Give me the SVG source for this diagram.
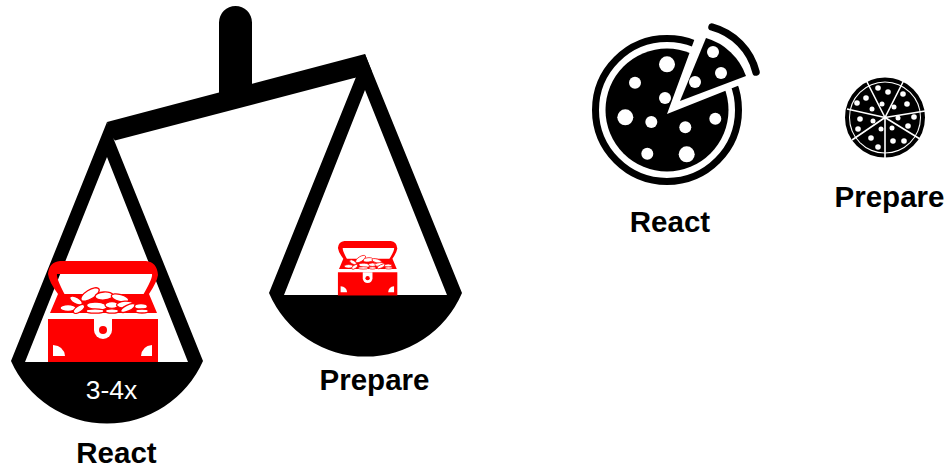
<svg xmlns="http://www.w3.org/2000/svg" xmlns:xlink="http://www.w3.org/1999/xlink" width="946" height="470" viewBox="0 0 946 470">
<style>
.lbl{font-family:"Liberation Sans",Arial,sans-serif;font-weight:700;font-size:29.5px;fill:#000;text-anchor:middle}
.num{font-family:"Liberation Sans",Arial,sans-serif;font-size:26.5px;fill:#fff;text-anchor:middle}
.c{fill:#fff;stroke:#f00;stroke-width:1.300}
.w{fill:#fff}
.k{fill:#000}
</style>
<defs>
<g id="chest">
<path fill="#f00" fill-rule="evenodd" d="M60 261H146Q157 262 158 275Q157 282 149 294L157 313H50L58 294Q49 282 48 274Q49 262 60 261ZM57 274Q56 278 65 295H143Q153 278 152 274Z"/>
<path fill="#f00" d="M60 294H147V313H60Z"/>
<ellipse class="c" cx="90" cy="294.500" rx="10.500" ry="4.500" transform="rotate(-32 90 294.500)"/>
<ellipse class="c" cx="104" cy="296" rx="9" ry="4" transform="rotate(-4 104 296)"/>
<ellipse class="c" cx="120" cy="298" rx="9" ry="3.500" transform="rotate(15 120 298)"/>
<ellipse class="c" cx="76" cy="300.500" rx="7" ry="3.300" transform="rotate(30 76 300.500)"/>
<ellipse class="c" cx="68" cy="308" rx="8" ry="3.300"/>
<ellipse class="c" cx="79" cy="309" rx="6.500" ry="3" transform="rotate(-35 79 309)"/>
<ellipse class="c" cx="97" cy="306" rx="10.500" ry="3.800" transform="rotate(5 97 306)"/>
<ellipse class="c" cx="112" cy="305" rx="7" ry="3.300"/>
<ellipse class="c" cx="125" cy="304.500" rx="8.500" ry="3.300" transform="rotate(-4 125 304.500)"/>
<ellipse class="c" cx="128" cy="308" rx="8" ry="3" transform="rotate(-26 128 308)"/>
<ellipse class="c" cx="141" cy="306.500" rx="6.500" ry="2.800"/>
<ellipse class="c" cx="142" cy="311" rx="6.500" ry="2"/>
<ellipse class="c" cx="95" cy="311" rx="9" ry="2.200"/>
<ellipse class="c" cx="112" cy="311" rx="6.500" ry="2.200"/>
<rect x="48" y="319" width="110" height="43" fill="#f00"/>
<path class="w" d="M94 319H112V330A9 9 0 0 1 94 330Z"/>
<circle cx="103" cy="330" r="4" fill="#f00"/>
<path class="w" d="M53 345Q64 346 65 356H53Z"/>
<path class="w" d="M152 345Q142 346 141 356H152Z"/>
</g>
</defs>
<g id="connectors"></g>
<g id="scale-frame">
<path class="k" d="M219 22.500A16.500 16.500 0 0 1 252 22.500V100H219Z"/>
<polygon class="k" points="107,122 365,54 372,72 356,77.500 115,140.500 110,135"/>
</g>
<g id="left-pan">
<path class="k" fill-rule="evenodd" d="M107 122L114 140L203 361A105 105 0 0 1 11 361ZM107 157L25 362H188Z"/>
<use xlink:href="#chest" href="#chest"/>
<text class="num" x="111.500" y="399">3-4x</text>
<text class="lbl" x="116.500" y="463">React</text>
</g>
<g id="right-pan">
<path class="k" fill-rule="evenodd" d="M365 54L462 293A105 105 0 0 1 269 293L356 77ZM365 90L284 295H447Z"/>
<use xlink:href="#chest" href="#chest" transform="translate(312 100) scale(0.54)"/>
<text class="lbl" x="374.500" y="390">Prepare</text>
</g>
<g id="pizza-whole">
<circle cx="667" cy="110" r="71.500" fill="none" stroke="#000" stroke-width="7"/>
<circle class="k" cx="667" cy="110" r="61.500"/>
<g class="w">
<circle cx="667" cy="64.300" r="8"/><circle cx="635" cy="82.700" r="6"/><circle cx="665" cy="98" r="6"/><circle cx="625.300" cy="117.300" r="8"/><circle cx="651.300" cy="122" r="6"/><circle cx="685.300" cy="127.300" r="6"/><circle cx="715.300" cy="118.700" r="6"/><circle cx="647.300" cy="153.700" r="6"/><circle cx="686.700" cy="154.300" r="8"/>
<path d="M667 114L695 38L752 36L752 85L740 85Z"/>
<path d="M695 43L702 20L760 20L760 70L740 85Z"/>
</g>
<path class="k" d="M680 101L706 38A60 60 0 0 1 746 76Z"/>
<circle class="w" cx="695" cy="82" r="6"/>
<circle class="w" cx="713" cy="52" r="6"/>
<circle class="w" cx="721" cy="73" r="6"/>
<path d="M712 27A62 62 0 0 1 756 72" fill="none" stroke="#000" stroke-width="7.500" stroke-linecap="round"/>
<text class="lbl" x="670" y="232">React</text>
</g>
<g id="pizza-sliced">
<circle cx="885" cy="117.500" r="38" fill="none" stroke="#000" stroke-width="4"/>
<circle class="k" cx="885" cy="117.500" r="35"/>
<g stroke="#fff" stroke-width="1.600" fill="none">
<path d="M885 117.500L865 78M885 117.500L905 78M885 117.500L925 111M885 117.500L920 139M885 117.500L885 158M885 117.500L852 140M885 117.500L847 109"/>
</g>
<g class="w">
<circle cx="878" cy="88" r="2.800"/><circle cx="888" cy="92" r="2.800"/><circle cx="903" cy="94" r="2.800"/><circle cx="907" cy="104" r="2.800"/><circle cx="894" cy="107" r="2.500"/><circle cx="882" cy="104" r="2.500"/><circle cx="872" cy="109" r="2.500"/><circle cx="857" cy="103" r="2.800"/><circle cx="866" cy="98" r="2.800"/><circle cx="860" cy="119" r="2.800"/><circle cx="873" cy="121" r="2.500"/><circle cx="858" cy="129" r="2.800"/><circle cx="881" cy="129" r="2.500"/><circle cx="871" cy="138" r="2.800"/><circle cx="878" cy="147" r="2.800"/><circle cx="893" cy="141" r="2.800"/><circle cx="904" cy="141" r="2.800"/><circle cx="908" cy="126" r="2.800"/><circle cx="914" cy="117" r="2.800"/><circle cx="898" cy="118" r="2.500"/><circle cx="892" cy="128" r="2.500"/>
</g>
<text class="lbl" x="889.500" y="207">Prepare</text>
</g>
</svg>
